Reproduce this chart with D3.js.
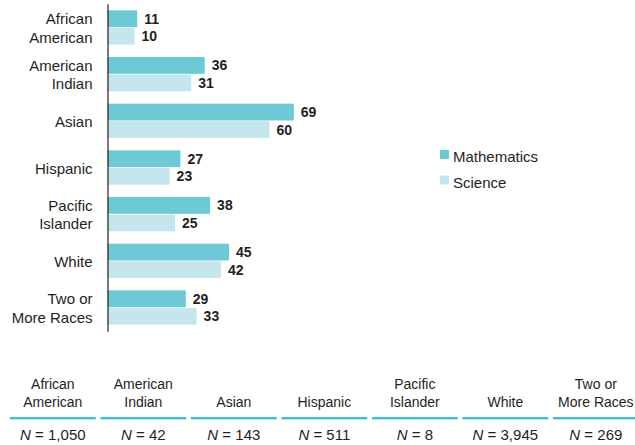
<!DOCTYPE html>
<html>
<head>
<meta charset="utf-8">
<script src="https://cdn.jsdelivr.net/npm/d3@7"></script>
<style>
  body { margin: 0; background: #fff; }
  svg text { font-family: "Liberation Sans", Arial, Helvetica, sans-serif; fill: #231f20; }
</style>
</head>
<body>
<div id="chart"></div>
<script>
const categories = ["African\nAmerican", "American\nIndian", "Asian", "Hispanic", "Pacific\nIslander", "White", "Two or\nMore Races"];
const mathValues = [11, 36, 69, 27, 38, 45, 29];
const scienceValues = [10, 31, 60, 23, 25, 42, 33];
const sampleSizes = [1050, 42, 143, 511, 8, 3945, 269];
const seriesNames = ["Mathematics", "Science"];

const WIDTH = 635, HEIGHT = 445;
const MATH_COLOR = "#6dcad5", SCI_COLOR = "#c4e6ec", RULE_COLOR = "#1fb8cc";

const svg = d3.select("#chart")
                .append("svg")
                  .attr("width", WIDTH)
                  .attr("height", HEIGHT);

const x = d3.scaleLinear().domain([0, 100]).range([107.5, 377.5]);
const y = d3.scaleBand().domain(categories).range([3.8, 331.2]).paddingInner(0.265).paddingOuter(0.14);
const sub = d3.scaleBand().domain(seriesNames).range([0, y.bandwidth()]).paddingInner(0.04);

const rows = categories.map((c, i) => ({ cat: c, vals: [mathValues[i], scienceValues[i]] }));

// bars
const groups = svg.selectAll("g.grp")
    .data(rows)
    .join("g")
      .attr("class", "grp")
      .attr("transform", d => `translate(0, ${y(d.cat)})`);

groups.selectAll("rect")
    .data(d => d.vals.map((v, k) => ({ v, s: seriesNames[k] })))
    .join("rect")
      .attr("x", x(0))
      .attr("y", d => sub(d.s))
      .attr("width", d => x(d.v) - x(0))
      .attr("height", sub.bandwidth())
      .attr("fill", d => d.s === "Mathematics" ? MATH_COLOR : SCI_COLOR);

groups.selectAll("text.val")
    .data(d => d.vals.map((v, k) => ({ v, s: seriesNames[k] })))
    .join("text")
      .attr("class", "val")
      .attr("x", d => x(d.v) + 7)
      .attr("y", d => sub(d.s) + sub.bandwidth() / 2 + 5)
      .attr("font-size", 14)
      .attr("font-weight", "bold")
      .text(d => d.v);

// axis line + category labels
const axis = svg.append("g")
    .attr("transform", `translate(${x(0)}, 0)`)
    .call(d3.axisLeft(y).tickSize(0).tickSizeOuter(0).tickPadding(15));
axis.select(".domain").attr("stroke", "#231f20").attr("stroke-width", 1.2);
axis.selectAll(".tick text")
    .attr("font-size", 15)
    .attr("font-family", null)
    .attr("fill", "#231f20")
    .attr("dy", null)
    .each(function(d) {
        const lines = d.split("\n");
        const t = d3.select(this).text(null);
        lines.forEach((ln, i) => {
            t.append("tspan")
              .attr("x", -15)
              .attr("y", 6 - 9.2 * (lines.length - 1) + 18.4 * i)
              .text(ln);
        });
    });

// legend
const legend = svg.append("g").attr("transform", "translate(440, 150)");
seriesNames.forEach((s, i) => {
    legend.append("rect")
        .attr("x", 0).attr("y", i * 25.5)
        .attr("width", 9).attr("height", 9)
        .attr("fill", i === 0 ? MATH_COLOR : SCI_COLOR);
    legend.append("text")
        .attr("x", 13).attr("y", i * 25.5 + 12.2)
        .attr("font-size", 15)
        .text(s);
});

// sample size table
const col = d3.scaleBand().domain(categories).range([7.6, 641.1]).paddingInner(0.052).paddingOuter(0.026);
const fmt = d3.format(",");
const cols = svg.selectAll("g.col")
    .data(categories.map((c, i) => ({ cat: c, n: sampleSizes[i] })))
    .join("g")
      .attr("class", "col")
      .attr("transform", d => `translate(${col(d.cat)}, 0)`);

cols.append("text")
    .attr("text-anchor", "middle")
    .attr("font-size", 14)
    .each(function(d) {
        const lines = d.cat.split("\n");
        const t = d3.select(this);
        lines.forEach((ln, i) => {
            t.append("tspan")
              .attr("x", col.bandwidth() / 2)
              .attr("y", 407.3 - 18 * (lines.length - 1 - i))
              .text(ln);
        });
    });

cols.append("line")
    .attr("x1", 0).attr("x2", col.bandwidth())
    .attr("y1", 418.3).attr("y2", 418.3)
    .attr("stroke", RULE_COLOR)
    .attr("stroke-width", 2);

const nText = cols.append("text")
    .attr("x", col.bandwidth() / 2)
    .attr("y", 440)
    .attr("text-anchor", "middle")
    .attr("font-size", 15);
nText.append("tspan").attr("font-style", "italic").text("N");
nText.append("tspan").text(d => " = " + fmt(d.n));
</script>
</body>
</html>
